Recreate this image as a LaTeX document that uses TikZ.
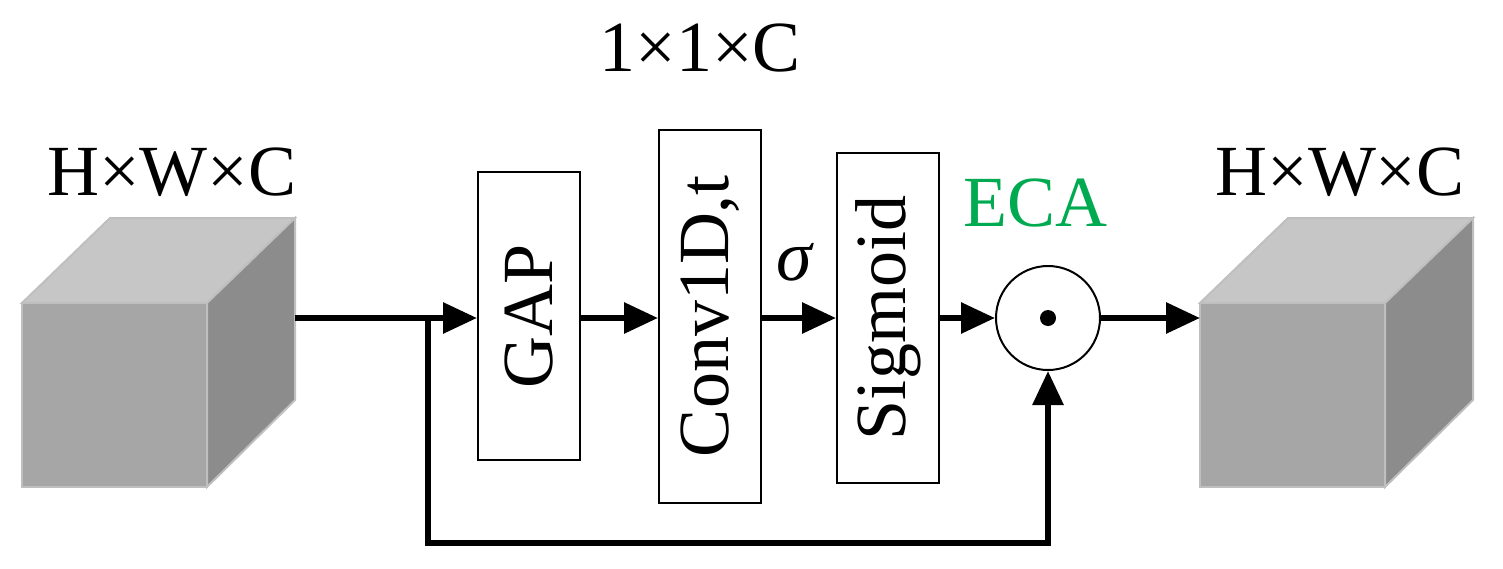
\documentclass[tikz,border=0pt]{standalone}
\usepackage{fontspec}
\setmainfont{Liberation Serif}
\usetikzlibrary{arrows.meta}
\definecolor{ecagreen}{RGB}{0,170,80}
\begin{document}
\begin{tikzpicture}[x=1pt,y=-1pt,
  blk/.style={draw,line width=2pt,minimum width=102pt,inner sep=0pt},
  con/.style={line width=6pt,-{Triangle[length=34pt,width=30pt]}},
  lbl/.style={font=\fontsize{72}{80}\selectfont},
  front/.style={fill=gray!70,draw=gray!50,line width=2pt},
  topf/.style={fill=gray!45,draw=gray!50,line width=2pt},
  sidef/.style={fill=gray!90,draw=gray!50,line width=2pt}]
\useasboundingbox (0,0) rectangle (1503,568);
% left cube
\draw[topf] (22,303)--(110,218)--(295,218)--(207,303)--cycle;
\draw[sidef] (207,303)--(295,218)--(295,400)--(207,487)--cycle;
\draw[front] (22,303) rectangle (207,487);
\coordinate (lout) at (295,318);
% right cube
\draw[topf] (1200,303)--(1288,218)--(1473,218)--(1385,303)--cycle;
\draw[sidef] (1385,303)--(1473,218)--(1473,400)--(1385,487)--cycle;
\draw[front] (1200,303) rectangle (1385,487);
\coordinate (rin) at (1200,318);
% blocks
\node[blk,minimum height=288pt] (gap) at (529,316) {};
\node[lbl,rotate=90] at (gap) {GAP};
\node[blk,minimum height=373pt] (conv) at (710,316) {};
\node[lbl,rotate=90] at (conv) {Conv1D,t};
\node[blk,minimum height=330pt] (sig) at (888,318) {};
\node[lbl,rotate=90] at (sig) {Sigmoid};
\node[draw,circle,line width=2pt,minimum size=104pt,inner sep=0pt] (mul) at (1048,318) {};
\fill (mul) circle (8pt);
% labels
\node[lbl] (t1) at (700,48) {1×1×C};
\node[lbl] (t2) at (172,172) {H×W×C};
\node[lbl] (t3) at (1340,172) {H×W×C};
\node[lbl,text=ecagreen] (t4) at (1035,203) {ECA};
\node[lbl] (t5) at (794,262) {\itshape σ};
% connectors
\coordinate (br) at (428,318);
\draw[con] (lout) -- (gap.west|-lout);
\draw[con] (gap.east|-lout) -- (conv.west|-lout);
\draw[con] (conv.east|-lout) -- (sig.west|-lout);
\draw[con] (sig.east|-lout) -- (mul.west);
\draw[con] (mul.east) -- (rin);
\draw[con] (br) -- (428,543) -- (1048,543) -- (mul.south);
\end{tikzpicture}
\end{document}
